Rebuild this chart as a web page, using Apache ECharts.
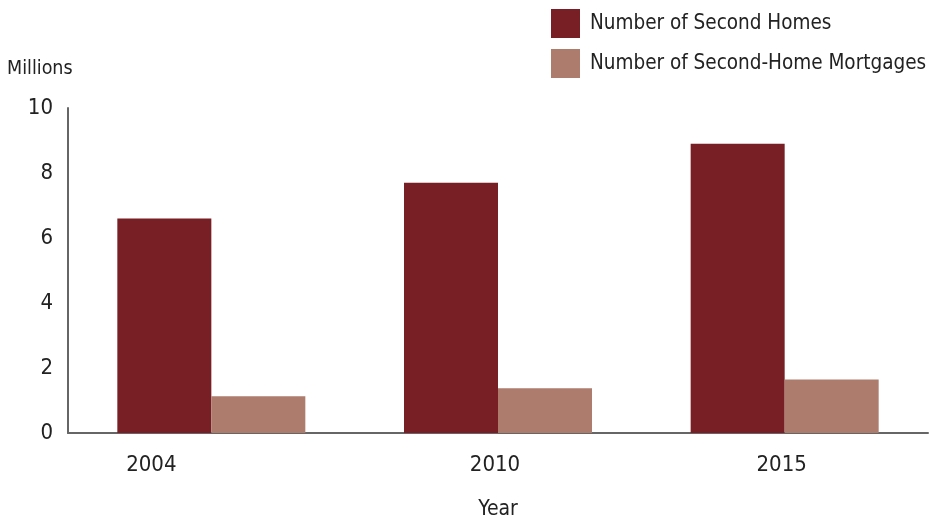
<!DOCTYPE html>
<html>
<head>
<meta charset="utf-8">
<script src="https://cdn.jsdelivr.net/npm/echarts@6/dist/echarts.min.js"></script>
<style>
  html, body { margin: 0; padding: 0; background: #fff; overflow: hidden; }
  #chart { width: 929px; height: 525px; }
</style>
</head>
<body>
<div id="chart"></div>
<script>
const years = ['2004', '2010', '2015'];
const secondHomes = [6.6, 7.7, 8.9];
const secondHomeMortgages = [1.13, 1.38, 1.65];
const yTicks = [0, 2, 4, 6, 8, 10];

const font = '"DejaVu Sans Condensed", "Roboto", sans-serif';
// label shifts to the left of group centre, px
const labelShift = [60, 3, 3];

const chart = echarts.init(document.getElementById('chart'));

chart.setOption({
  animation: false,
  textStyle: { fontFamily: font },
  legend: {
    orient: 'vertical',
    left: 546,
    top: 4,
    itemWidth: 29,
    itemHeight: 29,
    itemGap: 11,
    icon: 'rect',
    textStyle: { fontFamily: font, fontSize: 20.5, color: '#222', padding: [0, 0, 0, 5] },
    data: ['Number of Second Homes', 'Number of Second-Home Mortgages']
  },
  grid: {
    left: 68,
    right: 1,
    top: 108,
    bottom: 86.5
  },
  xAxis: {
    type: 'category',
    data: years.map((y, i) => ({
      value: y,
      textStyle: { padding: [0, labelShift[i] * 2, 0, 0] }
    })),
    name: 'Year',
    nameLocation: 'middle',
    nameGap: 66,
    nameTextStyle: { fontFamily: font, fontSize: 21, color: '#222' },
    axisLine: { lineStyle: { color: '#666', width: 2 } },
    axisTick: { show: false },
    axisLabel: { fontFamily: font, fontSize: 22, color: '#222', margin: 21 }
  },
  yAxis: {
    type: 'value',
    min: yTicks[0],
    max: yTicks[yTicks.length - 1],
    interval: yTicks[1] - yTicks[0],
    name: 'Millions',
    nameLocation: 'end',
    nameGap: 29,
    nameTextStyle: { fontFamily: font, fontSize: 19.5, color: '#222', align: 'left', padding: [0, 0, 0, -61] },
    axisLine: { show: true, lineStyle: { color: '#666', width: 2 } },
    axisTick: { show: false },
    splitLine: { show: false },
    axisLabel: { fontFamily: font, fontSize: 22, color: '#222', margin: 15 }
  },
  series: [
    {
      name: 'Number of Second Homes',
      type: 'bar',
      barWidth: 94,
      barGap: 0,
      itemStyle: { color: '#771F24' },
      data: secondHomes
    },
    {
      name: 'Number of Second-Home Mortgages',
      type: 'bar',
      barWidth: 94,
      barGap: 0,
      itemStyle: { color: '#AD7C6C' },
      data: secondHomeMortgages
    }
  ]
});
</script>
</body>
</html>
